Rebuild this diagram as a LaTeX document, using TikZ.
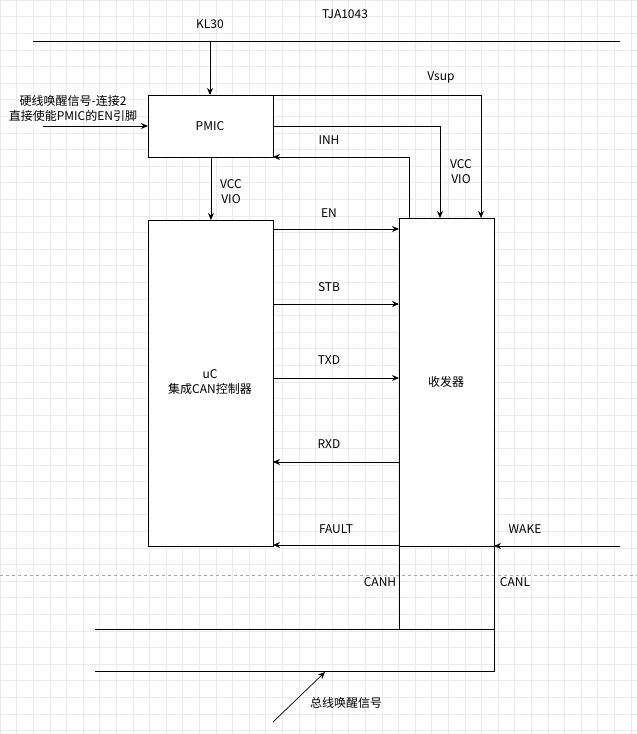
\documentclass[tikz,border=0pt]{standalone}
\usepackage{fontspec}
\setmainfont{Noto Sans CJK SC}
\usetikzlibrary{arrows.meta}
\begin{document}
\begin{tikzpicture}[x=1pt,y=-1pt,
  ln/.style={line width=0.9pt,black},
  ar/.style={ln,-{Stealth[length=7pt,width=6pt]}},
  bx/.style={draw,line width=0.9pt,fill=white,inner sep=0,anchor=north west},
  lb/.style={font=\fontsize{12}{15}\selectfont,align=center,inner sep=0}]
\useasboundingbox (0,0) rectangle (637,734);
\fill[white] (0,0) rectangle (637,734);
\foreach \i in {0,...,39} {
  \draw[black!8,line width=0.4pt] (\i*16.6,0) -- (\i*16.6,734);
  \draw[black!8,line width=0.4pt] (0,\i*16.6) -- (637,\i*16.6);
}
\foreach \i in {40,...,45} {\draw[black!8,line width=0.4pt] (0,\i*16.6) -- (637,\i*16.6);}
\draw[black!35,dashed,line width=0.5pt] (0,575) -- (637,575);
% top bus
\coordinate (t1) at (33,41); \coordinate (t2) at (620,41);
\draw[ln] (t1) -- (t2);
\node[lb] (tja) at (345,14) {TJA1043};
\node[lb] (kl) at (210,24) {KL30};
% boxes
\node[bx,minimum width=125,minimum height=62] (pmic) at (148,95) {};
\node[lb] (pmict) at (210,126) {PMIC};
\node[bx,minimum width=125,minimum height=326] (uc) at (148,220) {};
\node[lb] (uct) at (210,382) {uC\\集成CAN控制器};
\node[bx,minimum width=95,minimum height=328] (tr) at (399,218) {};
\node[lb] (trt) at (446,382) {收发器};
% KL30 to PMIC
\coordinate (k) at (210,41);
\draw[ar] (k) -- (pmic.north-|k);
% left text
\node[lb] (ltxt) at (73,108) {硬线唤醒信号-连接2\\直接使能PMIC的EN引脚};
\coordinate (la) at (43,126);
\draw[ar] (la) -- (pmic.west|-la);
% Vsup
\draw[ar] (273,95) -- (481,95) -- (481,218);
\node[lb] (vsup) at (441,77) {Vsup};
\draw[ar] (273,126) -- (440,126) -- (440,218);
\node[lb] (vcc2) at (461,172) {VCC\\VIO};
% INH
\draw[ar] (409,218) -- (409,157) -- (273,157);
\node[lb] (inh) at (329,140) {INH};
% VCC VIO
\draw[ar] (pmic.south) -- (uc.north);
\node[lb] (vcc1) at (231,192) {VCC\\VIO};
% signals
\draw[ar] (273,229) -- (399,229); \node[lb] (en) at (329,213) {EN};
\draw[ar] (273,304) -- (399,304); \node[lb] (stb) at (329,287) {STB};
\draw[ar] (273,378) -- (399,378); \node[lb] (txd) at (329,360) {TXD};
\draw[ar] (399,462) -- (273,462); \node[lb] (rxd) at (329,444) {RXD};
\draw[ar] (399,545) -- (273,545); \node[lb] (flt) at (336,529) {FAULT};
\draw[ar] (620,546) -- (494,546); \node[lb] (wake) at (525,529) {WAKE};
% CAN bus
\draw[ln] (399,546) -- (399,629);
\draw[ln] (95,629) -- (494,629);
\draw[ln] (494,546) -- (494,671) -- (95,671);
\node[lb] (canh) at (380,582) {CANH};
\node[lb] (canl) at (515,582) {CANL};
\coordinate (w1) at (273,722); \coordinate (w2) at (325,672);
\draw[ar,line width=0.7pt] (w1) -- (w2);
\node[lb] (bw) at (346,703) {总线唤醒信号};
\end{tikzpicture}
\end{document}
